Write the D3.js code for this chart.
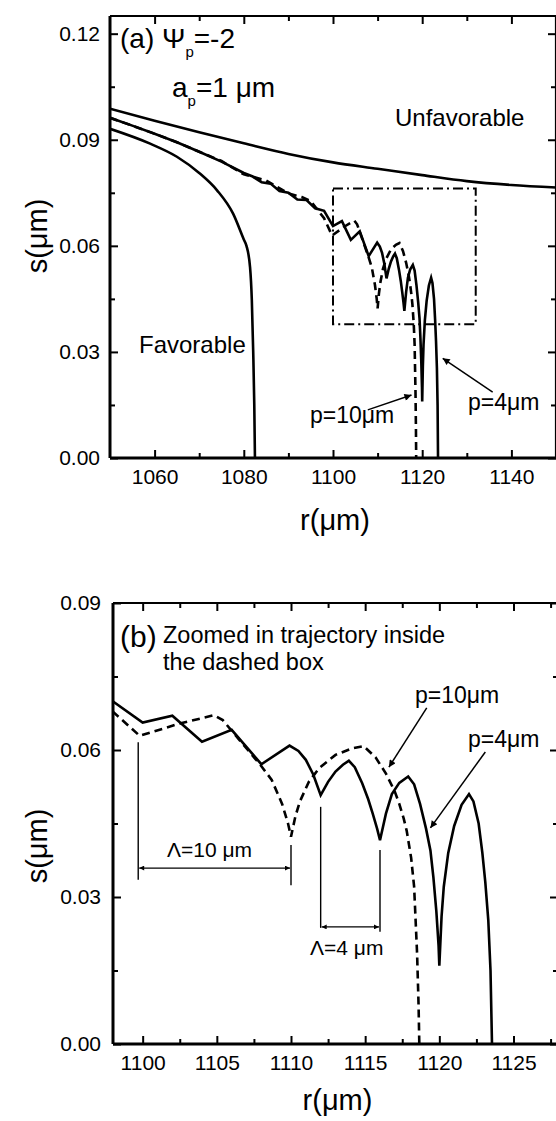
<!DOCTYPE html>
<html>
<head>
<meta charset="utf-8">
<script src="https://cdn.jsdelivr.net/npm/d3@7"></script>
<style>
body { margin: 0; background: #fff; }
text { font-family: "Liberation Sans", Arial, sans-serif; fill: #000; }
</style>
</head>
<body>
<script>
// ---- data ----

// upper curve (unfavorable)
var unfavR = [1050, 1060, 1070, 1080, 1090, 1100, 1110, 1120, 1130, 1140, 1150];
var unfavS = [0.0988, 0.0954, 0.0921, 0.0890, 0.0860, 0.0836, 0.0818, 0.0800, 0.0783, 0.0772, 0.0765];

// lower curve (favorable)
var favR = [1050, 1059, 1065, 1070, 1074, 1077.6, 1080, 1080.6, 1081.4, 1081.8, 1082.1, 1082.35, 1082.5];
var favS = [0.0931, 0.0889, 0.0852, 0.0806, 0.0757, 0.0691, 0.0618, 0.0600, 0.0540, 0.0446, 0.0305, 0.0150, 0];

// p = 4 um (solid)
var p4R = [1050, 1055, 1060, 1065, 1070, 1075, 1080, 1082, 1084, 1086, 1088, 1090, 1092, 1094, 1096, 1098,
           1100, 1102, 1104, 1106, 1108, 1109.9, 1110.5, 1111, 1111.5, 1112,
           1112.5, 1113, 1113.5, 1113.9, 1114.3, 1114.8, 1115.2, 1115.5, 1115.8, 1116,
           1116.4, 1116.8, 1117.3, 1117.9, 1118.3, 1118.7, 1119.1, 1119.4, 1119.6, 1119.8, 1119.95, 1120,
           1120.15, 1120.3, 1120.6, 1121, 1121.5, 1122, 1122.3, 1122.65, 1122.9, 1123.1, 1123.3, 1123.45, 1123.55];
var p4S = [0.0962, 0.0940, 0.0917, 0.0893, 0.0866, 0.0838, 0.0806, 0.0796, 0.0780, 0.0776, 0.0755, 0.0750, 0.0731, 0.0730, 0.0706, 0.0699,
           0.0656, 0.0670, 0.0617, 0.0641, 0.0571, 0.0609, 0.0598, 0.0580, 0.0550, 0.0508,
           0.0535, 0.0556, 0.0570, 0.0578, 0.0565, 0.0532, 0.0500, 0.0471, 0.0440, 0.0416,
           0.0470, 0.0510, 0.0533, 0.0546, 0.0530, 0.0490, 0.0440, 0.0395, 0.0340, 0.0270, 0.0200, 0.0160,
           0.0260, 0.0321, 0.0390, 0.0445, 0.0488, 0.0510, 0.0495, 0.0450, 0.0390, 0.0330, 0.0253, 0.0150, 0];

// p = 10 um (dashed)
var p10R = [1050, 1055, 1060, 1065, 1070, 1075, 1080, 1085, 1090, 1093, 1095, 1098, 1099.8, 1102.5, 1104.8, 1105.4,
            1107.9, 1108.7, 1109.4, 1109.8, 1110, 1110.3, 1110.6, 1111.2, 1111.9, 1113, 1114.1, 1114.9,
            1115.7, 1116.4, 1117, 1117.3, 1117.6, 1117.8, 1118.1, 1118.3, 1118.5, 1118.6, 1118.65];
var p10S = [0.0962, 0.0940, 0.0917, 0.0893, 0.0866, 0.0840, 0.0802, 0.0785, 0.0748, 0.0738, 0.0727, 0.0678, 0.0629, 0.0654, 0.0671, 0.0661,
            0.0571, 0.0539, 0.0490, 0.0450, 0.0423, 0.0465, 0.0495, 0.0535, 0.0563, 0.0590, 0.0603, 0.0608,
            0.0585, 0.0552, 0.0515, 0.0490, 0.0460, 0.0435, 0.0380, 0.0321, 0.0185, 0.0080, 0];

// dash-dot box in (a): r0, r1, s0, s1
var zoomBox = [1100, 1132, 0.0378, 0.0762];

// period markers in (b): [r, sTop, sBottom]
var lambda10Lines = [[1099.7, 0.0616, 0.0335], [1110, 0.0406, 0.0324]];
var lambda10Arrow = [1099.7, 1110, 0.0359];
var lambda4Lines = [[1112, 0.0484, 0.0237], [1116, 0.0396, 0.0229]];
var lambda4Arrow = [1112, 1116, 0.0239];

// ticks
var aXMajor = [1060, 1080, 1100, 1120, 1140], aXMinor = [1070, 1090, 1110, 1130];
var aYMajor = [0, 0.03, 0.06, 0.09, 0.12], aYMinor = [0.015, 0.045, 0.075, 0.105];
var bXMajor = [1100, 1105, 1110, 1115, 1120, 1125], bXMinor = [1102.5, 1107.5, 1112.5, 1117.5, 1122.5, 1127.5];
var bYMajor = [0, 0.03, 0.06, 0.09], bYMinor = [0.015, 0.045, 0.075];

function zip(a, b) { return a.map(function(v, i) { return [v, b[i]]; }); }

var width = 556, height = 1121;

var svg = d3.select("body")
    .append("svg")
    .attr("width", width)
    .attr("height", height);

var defs = svg.append("defs");
defs.append("marker")
    .attr("id", "arr")
    .attr("viewBox", "0 0 10 10")
    .attr("refX", 10).attr("refY", 5)
    .attr("markerWidth", 10).attr("markerHeight", 7)
    .attr("markerUnits", "userSpaceOnUse")
    .attr("orient", "auto-start-reverse")
    .append("path").attr("d", "M0,0L10,5L0,10z").attr("fill", "#000");
defs.append("marker")
    .attr("id", "arrS")
    .attr("viewBox", "0 0 10 10")
    .attr("refX", 10).attr("refY", 5)
    .attr("markerWidth", 8).attr("markerHeight", 5)
    .attr("markerUnits", "userSpaceOnUse")
    .attr("orient", "auto-start-reverse")
    .append("path").attr("d", "M0,0L10,5L0,10z").attr("fill", "#000");

// draw frame, ticks, labels for one panel
function drawAxes(x, y, xMaj, xMin, yMaj, yMin, yLabelPadding, xLabelY, yLabelY, id) {
    var x0 = x.range()[0], x1 = x.range()[1], y0 = y.range()[0], y1 = y.range()[1];

    var bottom = svg.append("g").attr("transform", "translate(0," + y0 + ")");
    bottom.call(d3.axisBottom(x).tickValues(xMaj).tickSize(-8).tickPadding(11).tickFormat(d3.format("d")));
    bottom.append("g").call(d3.axisBottom(x).tickValues(xMin).tickSize(-5).tickFormat(""));

    var top = svg.append("g").attr("transform", "translate(0," + y1 + ")");
    top.call(d3.axisTop(x).tickValues(xMaj).tickSize(-8).tickFormat(""));
    top.append("g").call(d3.axisTop(x).tickValues(xMin).tickSize(-5).tickFormat(""));

    var left = svg.append("g").attr("transform", "translate(" + x0 + ",0)");
    left.call(d3.axisLeft(y).tickValues(yMaj).tickSize(-8).tickPadding(yLabelPadding).tickFormat(d3.format(".2f")));
    left.append("g").call(d3.axisLeft(y).tickValues(yMin).tickSize(-5).tickFormat(""));

    var right = svg.append("g").attr("transform", "translate(" + x1 + ",0)");
    right.call(d3.axisRight(y).tickValues(yMaj).tickSize(-8).tickFormat(""));
    right.append("g").call(d3.axisRight(y).tickValues(yMin).tickSize(-5).tickFormat(""));

    svg.selectAll(".domain").remove();
    svg.selectAll(".tick line").attr("stroke", "#000").attr("stroke-width", 2);
    svg.selectAll(".tick text").attr("font-size", 21).attr("font-family", "Liberation Sans, Arial, sans-serif").attr("fill", "#000");

    // frame
    svg.append("line").attr("x1", x0).attr("x2", x1).attr("y1", y1).attr("y2", y1).attr("stroke", "#000").attr("stroke-width", 2.2);
    svg.append("line").attr("x1", x1).attr("x2", x1).attr("y1", y1).attr("y2", y0).attr("stroke", "#000").attr("stroke-width", 2.2);
    svg.append("line").attr("x1", x0).attr("x2", x1).attr("y1", y0).attr("y2", y0).attr("stroke", "#000").attr("stroke-width", 3);
    svg.append("line").attr("x1", x0).attr("x2", x0).attr("y1", y1).attr("y2", y0).attr("stroke", "#000").attr("stroke-width", 3);

    // axis titles
    svg.append("text")
        .attr("x", (x0 + x1) / 2 + 2).attr("y", xLabelY)
        .attr("text-anchor", "middle").attr("font-size", 29)
        .text("r(\u03bcm)");
    svg.append("text")
        .attr("transform", "translate(47," + yLabelY + ") rotate(-90)")
        .attr("text-anchor", "middle").attr("font-size", 29)
        .text("s(\u03bcm)");

    defs.append("clipPath").attr("id", id)
        .append("rect").attr("x", x0).attr("y", y1).attr("width", x1 - x0).attr("height", y0 - y1);
}

function curve(x, y, rs, ss, clip, dashed, type) {
    var line = d3.line()
        .x(function(d) { return x(d[0]); })
        .y(function(d) { return y(d[1]); })
        .curve(type || d3.curveLinear);
    svg.append("path")
        .datum(zip(rs, ss))
        .attr("clip-path", "url(#" + clip + ")")
        .attr("fill", "none")
        .attr("stroke", "#000")
        .attr("stroke-width", 2.6)
        .attr("stroke-linejoin", "miter")
        .attr("stroke-dasharray", dashed ? "8,5" : null)
        .attr("d", line);
}

function arrow(x, y, r0, s0, r1, s1, w) {
    svg.append("line")
        .attr("x1", x(r0)).attr("y1", y(s0))
        .attr("x2", x(r1)).attr("y2", y(s1))
        .attr("stroke", "#000").attr("stroke-width", w || 1.5)
        .attr("marker-end", "url(#arr)");
}

// ---------------- panel (a) ----------------
var xa = d3.scaleLinear().domain([1050, 1150]).range([110, 556]);
var ya = d3.scaleLinear().domain([0, 0.125]).range([458, 16]);

drawAxes(xa, ya, aXMajor, aXMinor, aYMajor, aYMinor, 10, 530, 236, "clipA");

curve(xa, ya, unfavR, unfavS, "clipA", false, d3.curveMonotoneX);
curve(xa, ya, favR, favS, "clipA", false, d3.curveMonotoneX);
curve(xa, ya, p4R, p4S, "clipA", false);
curve(xa, ya, p10R, p10S, "clipA", true);

svg.append("rect")
    .attr("x", xa(zoomBox[0])).attr("y", ya(zoomBox[3]))
    .attr("width", xa(zoomBox[1]) - xa(zoomBox[0]))
    .attr("height", ya(zoomBox[2]) - ya(zoomBox[3]))
    .attr("fill", "none").attr("stroke", "#000").attr("stroke-width", 2)
    .attr("stroke-dasharray", "10,4,2,4");

var ta = svg.append("text").attr("x", 120).attr("y", 48).attr("font-size", 28);
ta.append("tspan").text("(a) \u03a8");
ta.append("tspan").attr("font-size", 15).attr("dy", 9).text("p");
ta.append("tspan").attr("dy", -9).text("=-2");

var tb = svg.append("text").attr("x", 172).attr("y", 97).attr("font-size", 28);
tb.append("tspan").text("a");
tb.append("tspan").attr("font-size", 15).attr("dy", 9).text("p");
tb.append("tspan").attr("dy", -9).text("=1 \u03bcm");

svg.append("text").attr("x", 395).attr("y", 126).attr("font-size", 24).text("Unfavorable");
svg.append("text").attr("x", 139).attr("y", 353).attr("font-size", 24).text("Favorable");
svg.append("text").attr("x", 310).attr("y", 423).attr("font-size", 23).text("p=10\u03bcm");
svg.append("text").attr("x", 468).attr("y", 410).attr("font-size", 23).text("p=4\u03bcm");

arrow(xa, ya, 1107.8, 0.0136, 1117.6, 0.0178);
arrow(xa, ya, 1135.8, 0.0186, 1124.6, 0.0282);

// ---------------- panel (b) ----------------
var xb = d3.scaleLinear().domain([1098, 1128]).range([113, 558]);
var yb = d3.scaleLinear().domain([0, 0.09]).range([1044, 603]);

drawAxes(xb, yb, bXMajor, bXMinor, bYMajor, bYMinor, 12, 1110, 846, "clipB");

curve(xb, yb, p4R, p4S, "clipB", false);
curve(xb, yb, p10R, p10S, "clipB", true);

svg.append("text").attr("x", 120).attr("y", 647).attr("font-size", 30).text("(b)");
svg.append("text").attr("x", 163).attr("y", 643).attr("font-size", 23.5).text("Zoomed in trajectory inside");
svg.append("text").attr("x", 163).attr("y", 670).attr("font-size", 23.5).text("the dashed box");

svg.append("text").attr("x", 415).attr("y", 703).attr("font-size", 23).text("p=10\u03bcm");
svg.append("text").attr("x", 468).attr("y", 747).attr("font-size", 23).text("p=4\u03bcm");
arrow(xb, yb, 1119.15, 0.0686, 1116.6, 0.0565);
arrow(xb, yb, 1123.1, 0.0596, 1119.4, 0.0441);

// period markers
lambda10Lines.concat(lambda4Lines).forEach(function(d) {
    svg.append("line")
        .attr("x1", xb(d[0])).attr("x2", xb(d[0]))
        .attr("y1", yb(d[1])).attr("y2", yb(d[2]))
        .attr("stroke", "#000").attr("stroke-width", 1.4);
});
[lambda10Arrow, lambda4Arrow].forEach(function(d) {
    svg.append("line")
        .attr("x1", xb(d[0]) + 1).attr("x2", xb(d[1]) - 1)
        .attr("y1", yb(d[2])).attr("y2", yb(d[2]))
        .attr("stroke", "#000").attr("stroke-width", 1.2)
        .attr("marker-start", "url(#arrS)")
        .attr("marker-end", "url(#arrS)");
});
svg.append("text").attr("x", 167).attr("y", 857).attr("font-size", 21).text("\u039b=10 \u03bcm");
svg.append("text").attr("x", 310).attr("y", 955).attr("font-size", 21).text("\u039b=4 \u03bcm");
</script>
</body>
</html>
